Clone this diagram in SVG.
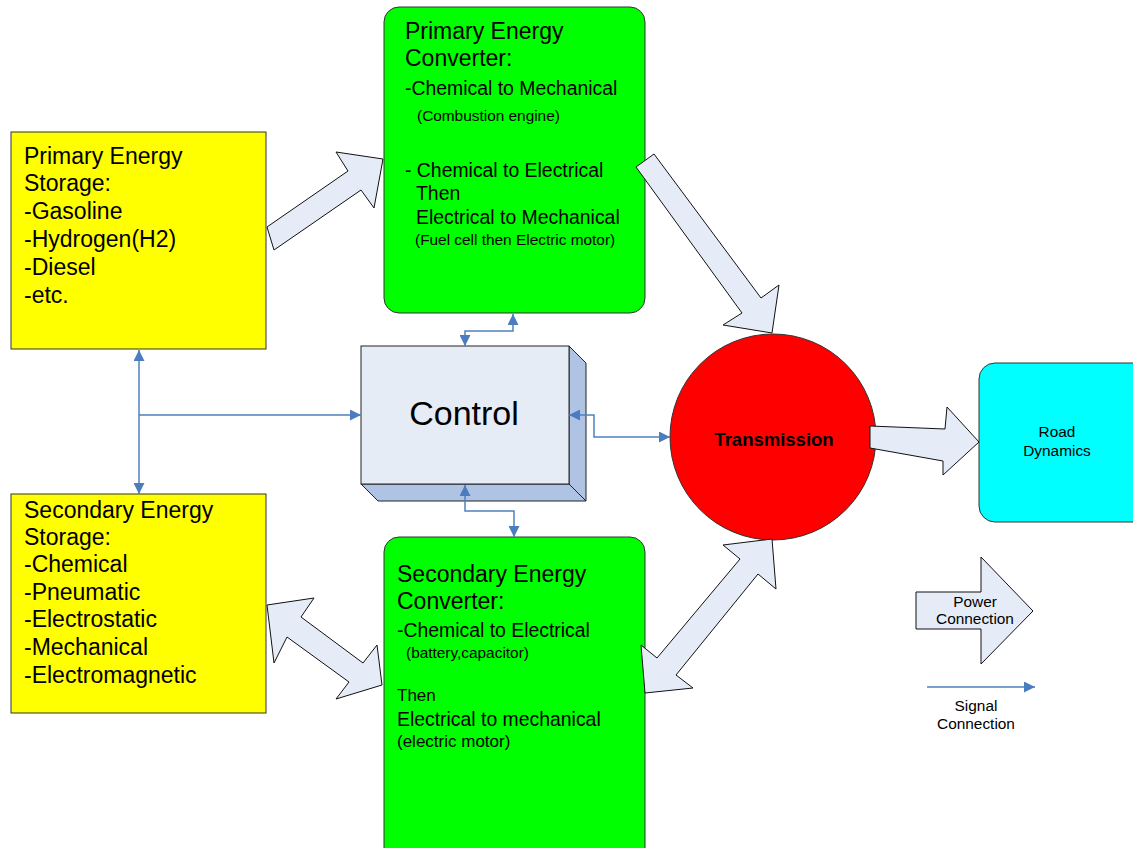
<svg xmlns="http://www.w3.org/2000/svg" width="1133" height="848" viewBox="0 0 1133 848">
<style>
text{font-family:"Liberation Sans",Arial,sans-serif;fill:#000}
.box{stroke:#333;stroke-width:1}
.yel{fill:#ffff00}
.grn{fill:#00ff00}
.pw{fill:#e6ecf7;stroke:#111;stroke-width:1;stroke-linejoin:miter}
.sig{fill:none;stroke:#4f81bd;stroke-width:1.5}
.h{font-size:23px}
.m{font-size:19.4px}
.s{font-size:15.4px}
</style>
<defs>
<marker id="ah" viewBox="0 0 10 10" refX="10" refY="5" markerUnits="userSpaceOnUse" markerWidth="15" markerHeight="11" orient="auto-start-reverse">
<path d="M0,0 L10,5 L0,10 z" fill="#4a7cbf"/>
</marker>
</defs>
<rect width="1133" height="848" fill="#fff"/>

<g id="primary-storage">
<rect class="box yel" x="11" y="132" width="255" height="217"/>
<text class="h" x="24" y="164">Primary Energy</text>
<text class="h" x="24" y="191">Storage:</text>
<text class="h" x="24" y="219">-Gasoline</text>
<text class="h" x="24" y="247">-Hydrogen(H2)</text>
<text class="h" x="24" y="275">-Diesel</text>
<text class="h" x="24" y="303">-etc.</text>
</g>

<g id="secondary-storage">
<rect class="box yel" x="11" y="494" width="255" height="219"/>
<text class="h" x="24" y="518">Secondary Energy</text>
<text class="h" x="24" y="545">Storage:</text>
<text class="h" x="24" y="572">-Chemical</text>
<text class="h" x="24" y="600">-Pneumatic</text>
<text class="h" x="24" y="627">-Electrostatic</text>
<text class="h" x="24" y="655">-Mechanical</text>
<text class="h" x="24" y="683">-Electromagnetic</text>
</g>

<g id="primary-converter">
<rect class="box grn" x="384" y="7" width="261" height="306" rx="15"/>
<text class="h" x="405" y="39">Primary Energy</text>
<text class="h" x="405" y="66">Converter:</text>
<text class="m" x="405" y="95">-Chemical to Mechanical</text>
<text class="s" x="417" y="121">(Combustion engine)</text>
<text class="m" x="405" y="177">-  Chemical to Electrical</text>
<text class="m" x="416" y="200">Then</text>
<text class="m" x="416" y="224">Electrical to Mechanical</text>
<text class="s" x="415" y="245">(Fuel cell then Electric motor)</text>
</g>

<g id="secondary-converter">
<rect class="box grn" x="384" y="537" width="261" height="330" rx="15"/>
<text class="h" x="397" y="582">Secondary Energy</text>
<text class="h" x="397" y="609">Converter:</text>
<text class="m" x="397" y="637">-Chemical to Electrical</text>
<text class="s" x="406" y="658">(battery,capacitor)</text>
<text x="397" y="701" font-size="17">Then</text>
<text class="m" x="397" y="726">Electrical to mechanical</text>
<text x="397" y="747" font-size="17">(electric motor)</text>
</g>

<g id="control">
<polygon points="569,346 586,363 586,501 378,501 361,484 569,484" fill="#afc4e4" stroke="#222" stroke-width="1"/>
<line x1="569" y1="484" x2="586" y2="501" stroke="#222" stroke-width="1"/>
<rect x="361" y="346" width="208" height="138" fill="#e6ecf6" stroke="#222" stroke-width="1"/>
<text x="464" y="425" font-size="34" text-anchor="middle">Control</text>
</g>

<g id="transmission">
<circle cx="773" cy="437" r="103" fill="#ff0000" stroke="#333" stroke-width="1"/>
<text x="774" y="446" font-size="18.5" font-weight="bold" text-anchor="middle">Transmission</text>
</g>

<g id="road-dynamics">
<rect class="box" x="979" y="363" width="170" height="159" rx="16" fill="#00ffff"/>
<text class="s" x="1057" y="437" text-anchor="middle">Road</text>
<text class="s" x="1057" y="456" text-anchor="middle">Dynamics</text>
</g>

<g id="connectors">
<polygon class="pw" points="267,227 348,171 336,152 383,159 374,208 361,190 274,250"/>
<polygon class="pw" points="636,167 654,154 761,298 779,285 772,333 723,325 742,313"/>
<polygon class="pw" points="870,426 945,429 947,407 979,442 943,475 943,461 870,448"/>
<polygon class="pw" points="267,605 314,598 301,617 363,663 377,645 382,685 336,699 349,682 287,637 274,663"/>
<polygon class="pw" points="772,539 776,589 758,574 676,675 693,688 645,693 641,645 657,658 740,559 723,545"/>
<path class="sig" d="M139,350 L139,494" marker-start="url(#ah)" marker-end="url(#ah)"/>
<path class="sig" d="M139,415 L361,415" marker-end="url(#ah)"/>
<path class="sig" d="M465,346 L465,331 L513,331 L513,314" marker-start="url(#ah)" marker-end="url(#ah)"/>
<path class="sig" d="M465,485 L465,511 L514,511 L514,537" marker-start="url(#ah)" marker-end="url(#ah)"/>
<path class="sig" d="M569,415 L594,415 L594,437 L670,437" marker-start="url(#ah)" marker-end="url(#ah)"/>
</g>

<g id="legend">
<polygon class="pw" points="916,592 981,592 981,557 1033,611 981,664 981,629 916,629"/>
<text class="s" x="975" y="607" text-anchor="middle">Power</text>
<text class="s" x="975" y="624" text-anchor="middle">Connection</text>
<path class="sig" d="M927,687 L1035,687" marker-end="url(#ah)"/>
<text class="s" x="976" y="711" text-anchor="middle">Signal</text>
<text class="s" x="976" y="729" text-anchor="middle">Connection</text>
</g>
</svg>
